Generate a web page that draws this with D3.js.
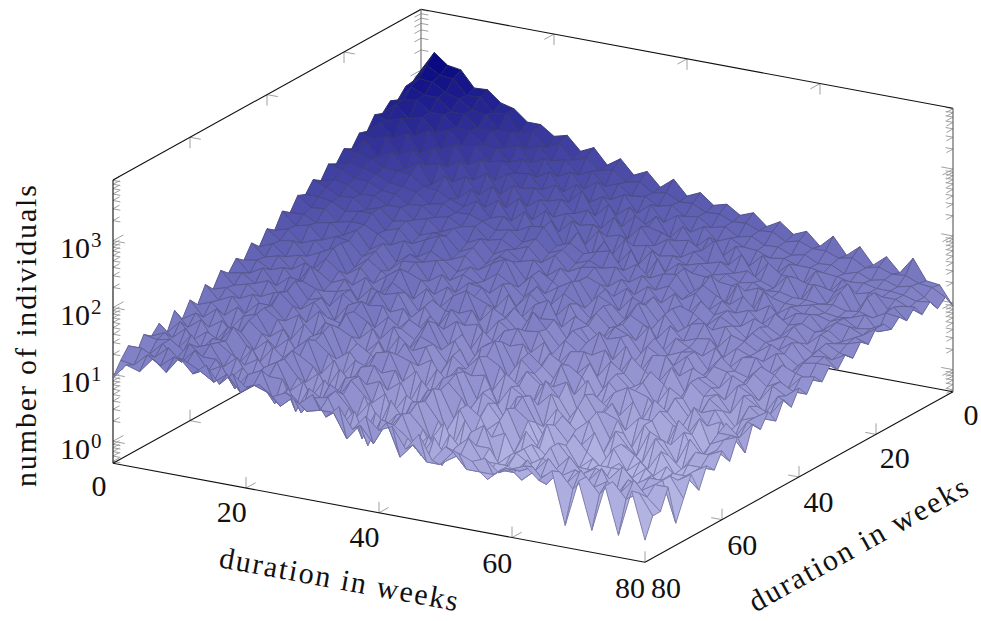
<!DOCTYPE html>
<html><head><meta charset="utf-8">
<style>html,body{margin:0;padding:0;background:#fff}svg{display:block}text{font-family:"Liberation Serif",serif;fill:#111}</style>
<script src="https://cdn.jsdelivr.net/npm/d3@7"></script></head><body><svg id="c" width="981" height="621"></svg>
<script>
const xWeeks = d3.range(0, 81, 2);
const yWeeks = d3.range(0, 81, 2);
const axisTicks = [0, 20, 40, 60, 80];
const zExponents = [0, 1, 2, 3];
const axisTitleX = "duration in weeks", axisTitleY = "duration in weeks", axisTitleZ = "number of individuals";
const counts = [
[1000,2000,1400,1300,760,780,540,480,330,330,240,270,170,210,125,170,105,130,82,118,72,88,62,70,52,62,42,54,38,46,30,46,26,38,22,32,20,36,18,17,9],
[800,1500,1150,1100,680,700,440,470,270,300,190,240,145,170,120,135,95,105,78,86,68,70,56,58,48,50,42,44,34,38,32,32,27,30,23,26,22,23,19,18,14],
[760,1100,1050,800,700,520,480,310,320,190,230,150,170,110,135,88,104,74,80,62,70,52,56,42,47,36,40,32,33,27,30,24,25,20,23,19,21,18,20,15,11],
[560,950,780,780,520,520,350,350,210,250,150,185,110,140,85,118,70,90,52,76,45,62,38,50,33,40,32,31,26,28,24,24,22,21,19,20,18,18,17,15,16],
[620,700,760,540,540,380,370,250,240,165,195,115,150,82,115,68,90,52,74,42,64,33,54,29,44,25,38,21,33,19,29,15,27,14,24,16,18,17,17,14,12],
[470,700,460,530,340,410,260,280,175,195,140,150,95,120,72,118,54,86,44,70,52,46,38,42,32,50,23,36,18,32,23,23,20,20,18,26,12,23,14,17,18],
[520,460,540,320,420,240,310,170,220,115,160,105,115,80,92,62,75,44,70,36,60,34,46,27,36,26,30,22,26,20,17,28,13,25,14,23,11,22,11,19,13],
[340,500,320,400,225,300,165,220,125,170,90,135,70,98,58,72,52,58,42,48,36,40,30,33,26,30,22,25,20,22,18,19,17,17,16,17,15,16,14,18,17],
[370,330,390,230,290,190,215,125,160,95,138,72,108,56,84,44,70,34,60,28,53,24,42,22,32,25,24,22,21,19,23,18,16,16,18,15,14,15,18,11,13],
[250,360,225,290,175,235,120,175,90,132,78,108,58,86,44,74,34,60,28,52,26,46,19,40,18,34,14,32,12,28,11,26,13,18,15,16,14,17,13,14,18],
[290,275,240,195,190,180,130,125,100,85,112,68,78,52,66,70,40,48,36,42,47,26,35,24,30,32,18,26,20,16,23,15,20,13,18,19,12,17,16,13,18],
[200,225,205,180,145,140,125,90,100,80,82,70,56,62,44,54,36,44,30,36,30,34,22,30,20,25,17,23,14,21,15,18,12,19,14,16,13,15,11,14,12],
[230,210,165,160,130,125,95,100,72,80,62,68,46,52,40,48,30,42,26,33,36,20,28,18,26,16,24,13,22,15,19,12,17,14,11,17,10,15,12,13,15],
[150,170,155,120,125,98,100,70,80,55,68,45,56,36,46,33,38,24,34,22,30,25,18,26,15,23,13,20,17,12,18,14,10,16,11,14,12,9,14,11,10],
[180,150,120,125,90,105,72,78,52,62,60,38,48,30,42,38,22,33,25,18,30,16,27,14,24,20,12,21,11,18,13,16,9,15,12,10,14,8,13,10,13],
[125,125,115,90,98,100,60,70,45,56,70,34,42,28,38,48,20,32,19,26,34,15,25,20,13,25,11,20,12,17,19,9,15,13,10,14,11,8,12,13,9],
[140,100,105,72,80,78,62,46,58,36,48,38,28,36,24,34,26,18,28,16,26,20,13,22,12,19,15,10,17,11,13,14,8,12,10,9,13,7,11,12,12],
[90,92,75,82,58,75,42,56,32,46,38,44,24,32,26,20,30,15,25,18,14,23,11,20,13,16,10,18,8,14,11,9,13,7,11,12,7,11,9,8,8],
[110,72,80,52,64,60,38,50,28,42,44,25,34,20,30,28,15,26,13,22,28,12,19,15,10,17,14,8,15,9,11,12,7,12,8,7,11,9,6,10,11],
[66,74,50,60,42,64,30,44,32,24,36,30,20,28,16,24,20,12,21,14,17,18,10,16,9,13,15,7,13,10,8,12,6,10,9,6,10,7,9,7,7],
[80,58,62,40,50,63,28,38,24,34,47,18,28,16,26,34,13,22,17,11,25,15,9,17,12,19,8,14,6,12,13,7,10,8,6,10,8,5,9,7,10],
[50,60,42,48,32,50,36,24,34,20,34,26,15,24,18,18,22,10,18,13,15,16,8,14,10,10,13,6,12,8,6,11,5,9,7,5,9,7,4,8,6],
[66,44,50,34,46,38,28,34,18,30,26,30,14,22,12,24,15,17,9,16,19,9,14,7,12,13,6,11,8,5,10,7,4,9,6,7,4,8,6,5,9],
[42,46,36,42,26,52,24,26,30,16,34,18,22,11,20,14,20,8,17,11,12,14,6,12,9,7,11,5,9,6,8,4,8,6,3,7,5,3,7,5,5],
[52,34,44,26,38,36,30,18,30,22,24,26,12,19,15,20,10,16,8,14,16,7,13,9,6,11,8,4,8,5,7,6,3,7,4,5,6,3,5,6,8],
[36,40,30,36,22,42,24,28,14,26,32,14,22,16,12,25,10,15,7,14,19,6,12,8,5,13,5,9,4,7,9,3,7,5,3,7,4,5,3,6,5],
[46,30,34,24,30,34,20,28,18,16,26,20,12,20,9,17,14,8,14,6,13,10,5,10,7,7,9,3,7,5,4,7,3,6,4,3,6,2,6,4,7],
[28,32,24,30,18,38,26,16,26,12,28,13,20,9,18,12,15,6,13,9,15,5,10,7,4,10,6,3,8,4,7,3,5,5,2,6,4,2,5,5,3],
[38,24,30,18,28,28,18,24,11,22,20,16,10,16,7,18,9,12,6,11,9,10,4,8,6,5,8,3,6,3,6,5,2,5,3,3,5,2,4,5,6],
[22,26,18,26,16,30,22,12,22,14,26,9,16,12,8,14,12,5,11,7,12,5,8,3,7,8,3,6,4,2,7,3,4,2,5,4,2,5,3,4,3],
[30,18,26,14,24,28,14,20,10,18,23,10,14,8,16,18,7,11,5,10,13,4,8,6,3,9,4,2,6,4,6,2,5,3,2,5,3,2,4,4,5],
[18,24,16,22,13,26,18,12,18,9,20,14,7,13,11,10,12,4,10,6,11,7,3,7,4,7,5,2,5,3,3,5,2,4,3,2,4,2,3,3,3],
[28,17,24,12,22,20,12,18,9,16,24,8,14,6,13,15,7,10,4,9,10,4,7,5,2,8,3,2,6,2,5,3,2,4,2,3,2,3,2,3,4],
[15,24,14,20,16,28,16,10,18,12,16,12,6,13,8,9,11,4,8,6,12,3,7,3,4,6,2,5,3,2,4,2,3,2,3,2,3,2,3,3,2],
[24,16,24,12,20,20,10,18,8,14,22,8,12,5,12,14,6,9,3,8,9,5,2,6,3,4,5,2,4,2,5,3,2,3,3,3,2,3,2,3,4],
[18,22,14,24,14,22,16,12,16,9,19,11,6,12,7,14,9,3,9,5,10,3,6,2,5,7,2,3,4,2,5,2,3,3,2,3,3,2,3,4,2],
[22,20,22,16,20,24,12,18,9,15,20,8,12,5,13,10,5,9,4,7,8,5,2,5,3,4,4,2,4,3,4,3,5,3,4,3,5,3,4,4,1],
[13,14,22,14,26,18,18,10,16,10,14,14,5,12,9,13,8,3,8,5,9,3,5,2,4,6,3,3,3,2,3,5,3,4,3,5,2,4,3,4,4],
[20,20,16,24,16,26,14,18,9,16,20,7,13,6,11,12,5,9,3,8,7,5,3,6,3,4,3,2,3,3,5,3,4,3,5,3,4,3,5,3,2],
[14,13,20,15,22,20,16,12,17,10,14,12,8,12,8,9,9,4,7,4,9,3,5,3,3,5,3,3,3,4,4,5,3,5,3,5,3,5,3,4,2],
[9,15,13,22,15,27,17,25,14,22,15,18,13,16,12,18,9,14,7,12,8,10,5,9,4,7,6,5,6,4,5,6,4,6,1,5,1,5,1,5,1]
];

const svg = d3.select("#c");
const O = [421, 292.7], Vx = [532, 99], Vy = [-308, 170.6], Vz = [0, -283.4];
const xs = d3.scaleLinear().domain([0, 80]).range([0, 1]);
const ys = d3.scaleLinear().domain([0, 80]).range([0, 1]);
const zMin = Math.pow(10, -0.33), zMax = Math.pow(10, 3.91);
const zs = d3.scaleLog().domain([zMin, zMax]).range([0, 1]);
const fillC = d3.scaleLog().domain([1, 2000]).range(["#cbcbf0", "#02027e"]).interpolate(d3.interpolateRgb).clamp(true);
const strokeC = d3.scaleLog().domain([1, 2000]).range(["#8e8eba", "#1a1a62"]).interpolate(d3.interpolateRgb).clamp(true);
const proj = (x, y, z) => [
  O[0] + xs(x) * Vx[0] + ys(y) * Vy[0] + zs(z) * Vz[0],
  O[1] + xs(x) * Vx[1] + ys(y) * Vy[1] + zs(z) * Vz[1]];
const unit = v => { const n = Math.hypot(v[0], v[1]); return [v[0] / n, v[1] / n]; };
const dX = unit(Vx), dY = unit(Vy), dZ = [0, -1];
const neg = v => [-v[0], -v[1]];
const line = (a, b, col, w) => svg.append("line").attr("x1", a[0]).attr("y1", a[1]).attr("x2", b[0]).attr("y2", b[1]).attr("stroke", col).attr("stroke-width", w);
const tick = (p, dirs, len) => dirs.forEach(d => line(p, [p[0] + d[0] * len, p[1] + d[1] * len], "#a0a0a0", 1));

const inner = axisTicks.slice(1, -1);
inner.forEach(t => {
  tick(proj(t, 80, zMin), [dZ, neg(dY)], 11);
  tick(proj(t, 0, zMin), [dZ, dY], 11);
  tick(proj(t, 0, zMax), [neg(dZ), dY], 11);
  tick(proj(0, t, zMin), [dZ, dX], 11);
  tick(proj(80, t, zMin), [dZ, neg(dX)], 11);
  tick(proj(0, t, zMax), [neg(dZ), dX], 11);
});
[[80,80]].forEach(c => tick(proj(c[0], c[1], zMin), [dZ], 11));
const corners = [[0, 80, [dX, neg(dY)]], [0, 0, [dX, dY]], [80, 0, [neg(dX), dY]]];
corners.forEach(([cx, cy, dirs]) => {
  d3.range(-1, 4).forEach(e => {
    d3.range(1, 10).forEach(m => {
      const v = m * Math.pow(10, e);
      if (v < zMin || v > zMax) return;
      tick(proj(cx, cy, v), dirs, m === 1 ? 12 : 7.5);
    });
  });
});
line(proj(0, 80, zMin), proj(80, 80, zMin), "#111", 1.1);
line(proj(80, 80, zMin), proj(80, 0, zMin), "#111", 1.1);
line(proj(0, 80, zMin), proj(0, 0, zMin), "#111", 1.1);
line(proj(0, 0, zMin), proj(80, 0, zMin), "#111", 1.1);
line(proj(0, 80, zMax), proj(0, 0, zMax), "#111", 1.1);
line(proj(0, 0, zMax), proj(80, 0, zMax), "#111", 1.1);
line(proj(0, 80, zMin), proj(0, 80, zMax), "#222", 1.2);
line(proj(0, 0, zMin), proj(0, 0, zMax), "#777", 1.2);
line(proj(80, 0, zMin), proj(80, 0, zMax), "#666", 1.2);

const cells = [];
for (let j = 0; j < yWeeks.length - 1; j++) for (let i = 0; i < xWeeks.length - 1; i++) {
  const q = [[i, j], [i + 1, j], [i + 1, j + 1], [i, j + 1]];
  cells.push({ i, j, pts: q.map(([a, b]) => proj(xWeeks[a], yWeeks[b], counts[b][a])),
    v: Math.exp(d3.mean(q, ([a, b]) => Math.log(counts[b][a]))) });
}
cells.sort((a, b) => (a.i + a.j) - (b.i + b.j));
svg.append("g").selectAll("path").data(cells).join("path")
  .attr("d", d => "M" + d.pts.map(p => p[0].toFixed(1) + "," + p[1].toFixed(1)).join("L") + "Z")
  .attr("fill", d => fillC(d.v))
  .attr("stroke", d => strokeC(d.v))
  .attr("stroke-width", 1)
  .attr("stroke-linejoin", "round");

const txt = (x, y, s, size, anchor) => svg.append("text").attr("x", x).attr("y", y).attr("font-size", size).attr("text-anchor", anchor || "middle").text(s);
const labelPos = d3.scaleLinear().domain([0, 80]).range([0, 1]);
axisTicks.forEach(t => {
  const f = labelPos(t);
  txt(99 + f * 531, 496 + f * 102, t, 30);
  txt(971 - f * 305, 425 + f * 173, t, 30);
});
zExponents.forEach(e => {
  const p = proj(0, 80, Math.pow(10, e));
  txt(90, p[1] + 17.5, "10", 30, "end");
  txt(91, p[1] + 6.5, e, 21, "start");
});
svg.append("text").attr("transform", "translate(337,589) rotate(10.5)").attr("font-size", 30).attr("text-anchor", "middle")
  .attr("textLength", 242).attr("lengthAdjust", "spacing").text(axisTitleX);
svg.append("text").attr("transform", "translate(863,553) rotate(-29)").attr("font-size", 30).attr("text-anchor", "middle")
  .attr("textLength", 246).attr("lengthAdjust", "spacing").text(axisTitleY);
svg.append("text").attr("transform", "translate(36,336) rotate(-90)").attr("font-size", 30).attr("text-anchor", "middle")
  .attr("textLength", 302).attr("lengthAdjust", "spacing").text(axisTitleZ);
</script></body></html>
